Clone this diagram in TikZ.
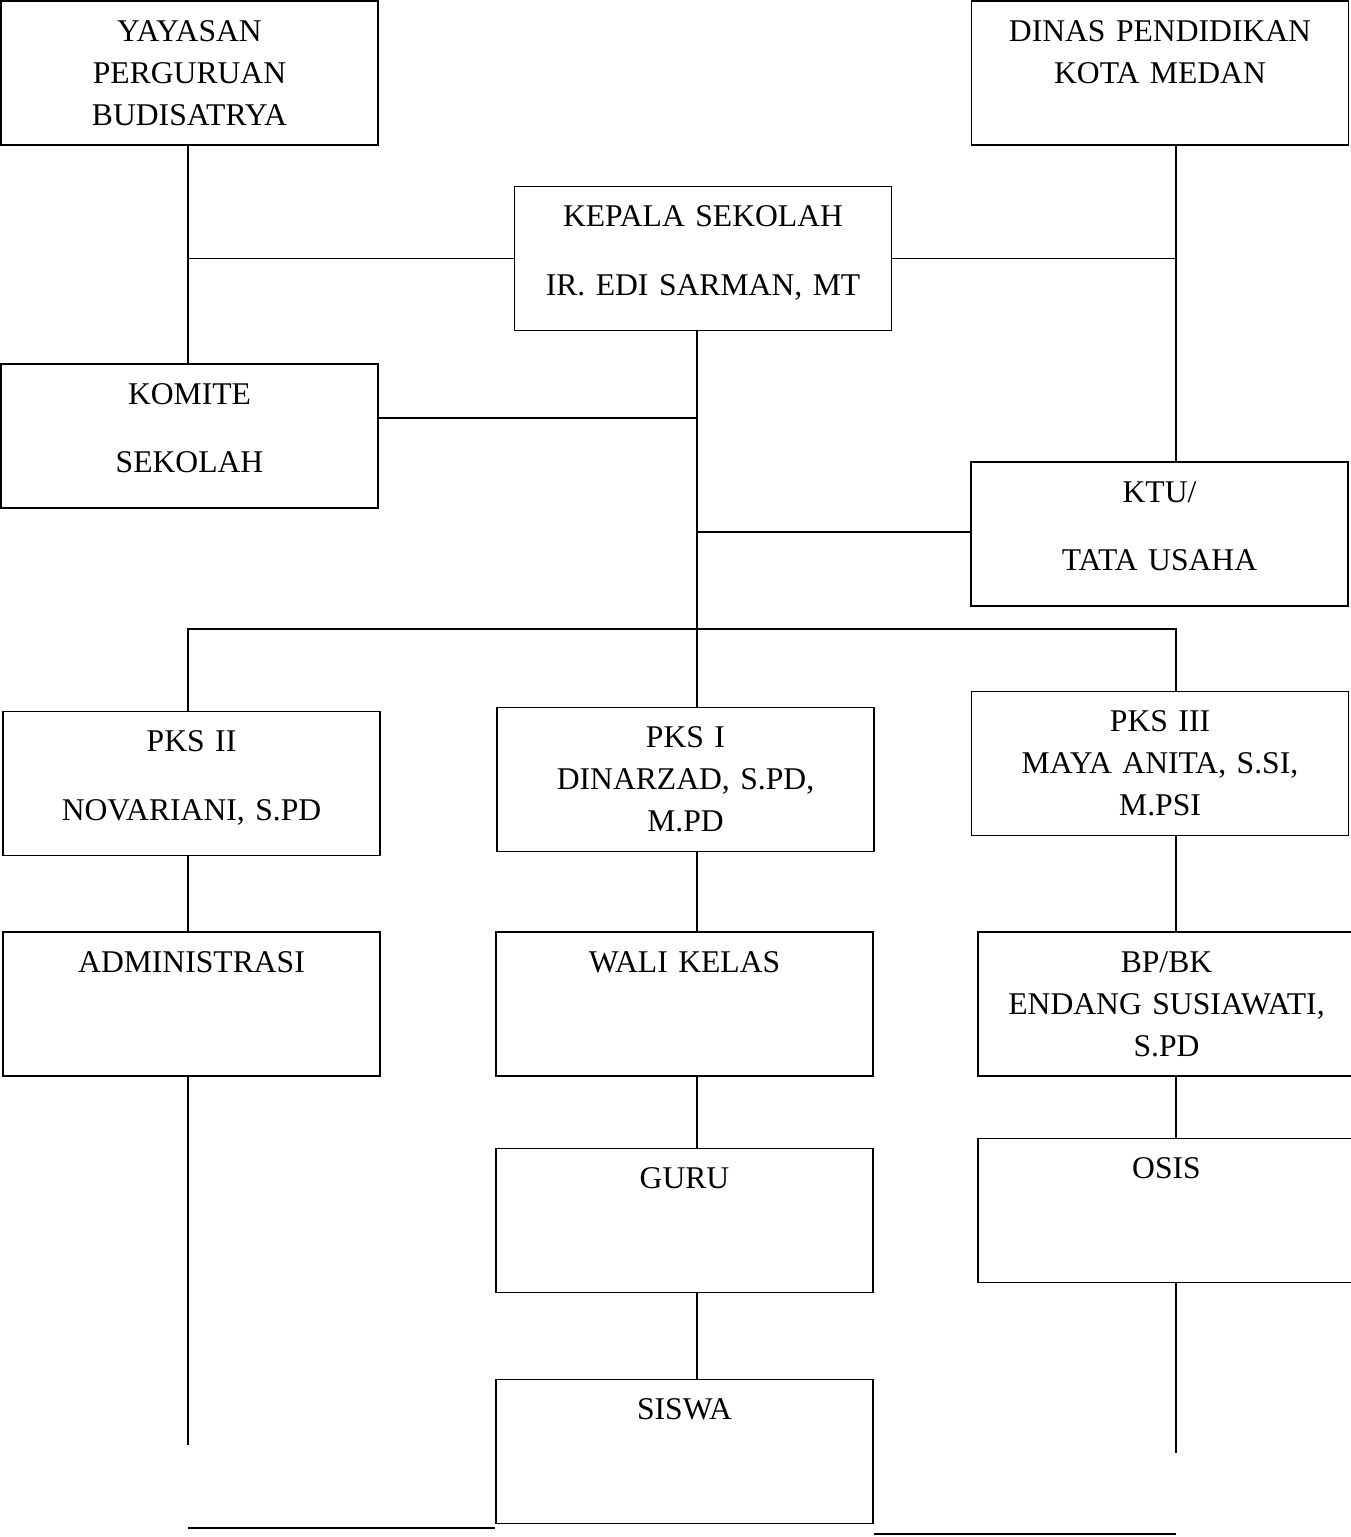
\documentclass[tikz,border=0pt]{standalone}
\usepackage{fontspec}
\setmainfont{Liberation Serif}
\tikzset{
	unit/.style={draw, line width=1pt, minimum width=7.54cm, text width=7.3cm, align=center, inner sep=0pt, text height=0.8cm, text depth=2.08cm, font=\fontsize{18}{24}\selectfont},
	link/.style={line width=1pt},
	baseline/.style={line width=1.6pt}
}
\begin{document}
\begin{tikzpicture}[x=0.02cm,y=-0.02cm]
			\useasboundingbox (0,0) rectangle (1350,1537);
			\node[unit] (yayasan) at (189.5,73) {YAYASAN\\PERGURUAN\\BUDISATRYA};
			\node[unit] (dinas) at (1160,73) {DINAS PENDIDIKAN\\KOTA MEDAN};
			\node[unit] (kepsek) at (703,258.5) {KEPALA SEKOLAH\\[15pt]IR. EDI SARMAN, MT};
			\node[unit] (komite) at (189.5,436) {KOMITE\\[15pt]SEKOLAH};
			\node[unit] (ktu) at (1159.5,534) {KTU/\\[15pt]TATA USAHA};
			\node[unit] (pks2) at (191.5,783.5) {PKS II\\[15pt]NOVARIANI, S.PD};
			\node[unit] (pks1) at (685.5,779.5) {PKS I\\DINARZAD, S.PD,\\M.PD};
			\node[unit] (pks3) at (1160,763.5) {PKS III\\MAYA ANITA, S.SI,\\M.PSI};
			\node[unit] (adm) at (191.5,1004) {ADMINISTRASI};
			\node[unit] (wali) at (684.5,1004) {WALI KELAS};
			\node[unit] (bpbk) at (1166.5,1004) {BP/BK\\ENDANG SUSIAWATI,\\S.PD};
			\node[unit] (guru) at (684.5,1220.5) {GURU};
			\node[unit] (osis) at (1166.5,1210.5) {OSIS};
			\node[unit] (siswa) at (684.5,1451.5) {SISWA};
			\coordinate (colL) at (188,0);
			\coordinate (colM) at (697,0);
			\coordinate (colR) at (1176,0);
			\coordinate (jK) at (697,418);
			\coordinate (jT) at (697,532);
			\coordinate (bus) at (697,629);
			\coordinate (endL) at (188,1445);
			\coordinate (endR) at (1176,1453);
			\coordinate (footL) at (188,1528);
			\coordinate (footR) at (1176,1534);
			\draw[link] (yayasan.south -| colL) -- (komite.north -| colL);
			\draw[link] (kepsek.west -| colL) -- (kepsek.west);
			\draw[link] (kepsek.east) -- (kepsek.east -| colR);
			\draw[link] (dinas.south -| colR) -- (ktu.north -| colR);
			\draw[link] (kepsek.south -| colM) -- (pks1.north -| colM);
			\draw[link] (komite.east |- jK) -- (jK);
			\draw[link] (jT) -- (jT -| ktu.west);
			\draw[link] (pks2.north -| colL) -- (bus -| colL) -- (bus -| colR) -- (pks3.north -| colR);
			\draw[link] (pks2.south -| colL) -- (adm.north -| colL);
			\draw[link] (pks1.south -| colM) -- (wali.north -| colM);
			\draw[link] (pks3.south -| colR) -- (bpbk.north -| colR);
			\draw[link] (adm.south -| colL) -- (endL);
			\draw[link] (wali.south -| colM) -- (guru.north -| colM);
			\draw[link] (guru.south -| colM) -- (siswa.north -| colM);
			\draw[link] (bpbk.south -| colR) -- (osis.north -| colR);
			\draw[link] (osis.south -| colR) -- (endR);
			\draw[baseline] (footL) -- (footL -| siswa.west);
			\draw[baseline] (footR -| siswa.east) -- (footR);
\end{tikzpicture}
\end{document}
